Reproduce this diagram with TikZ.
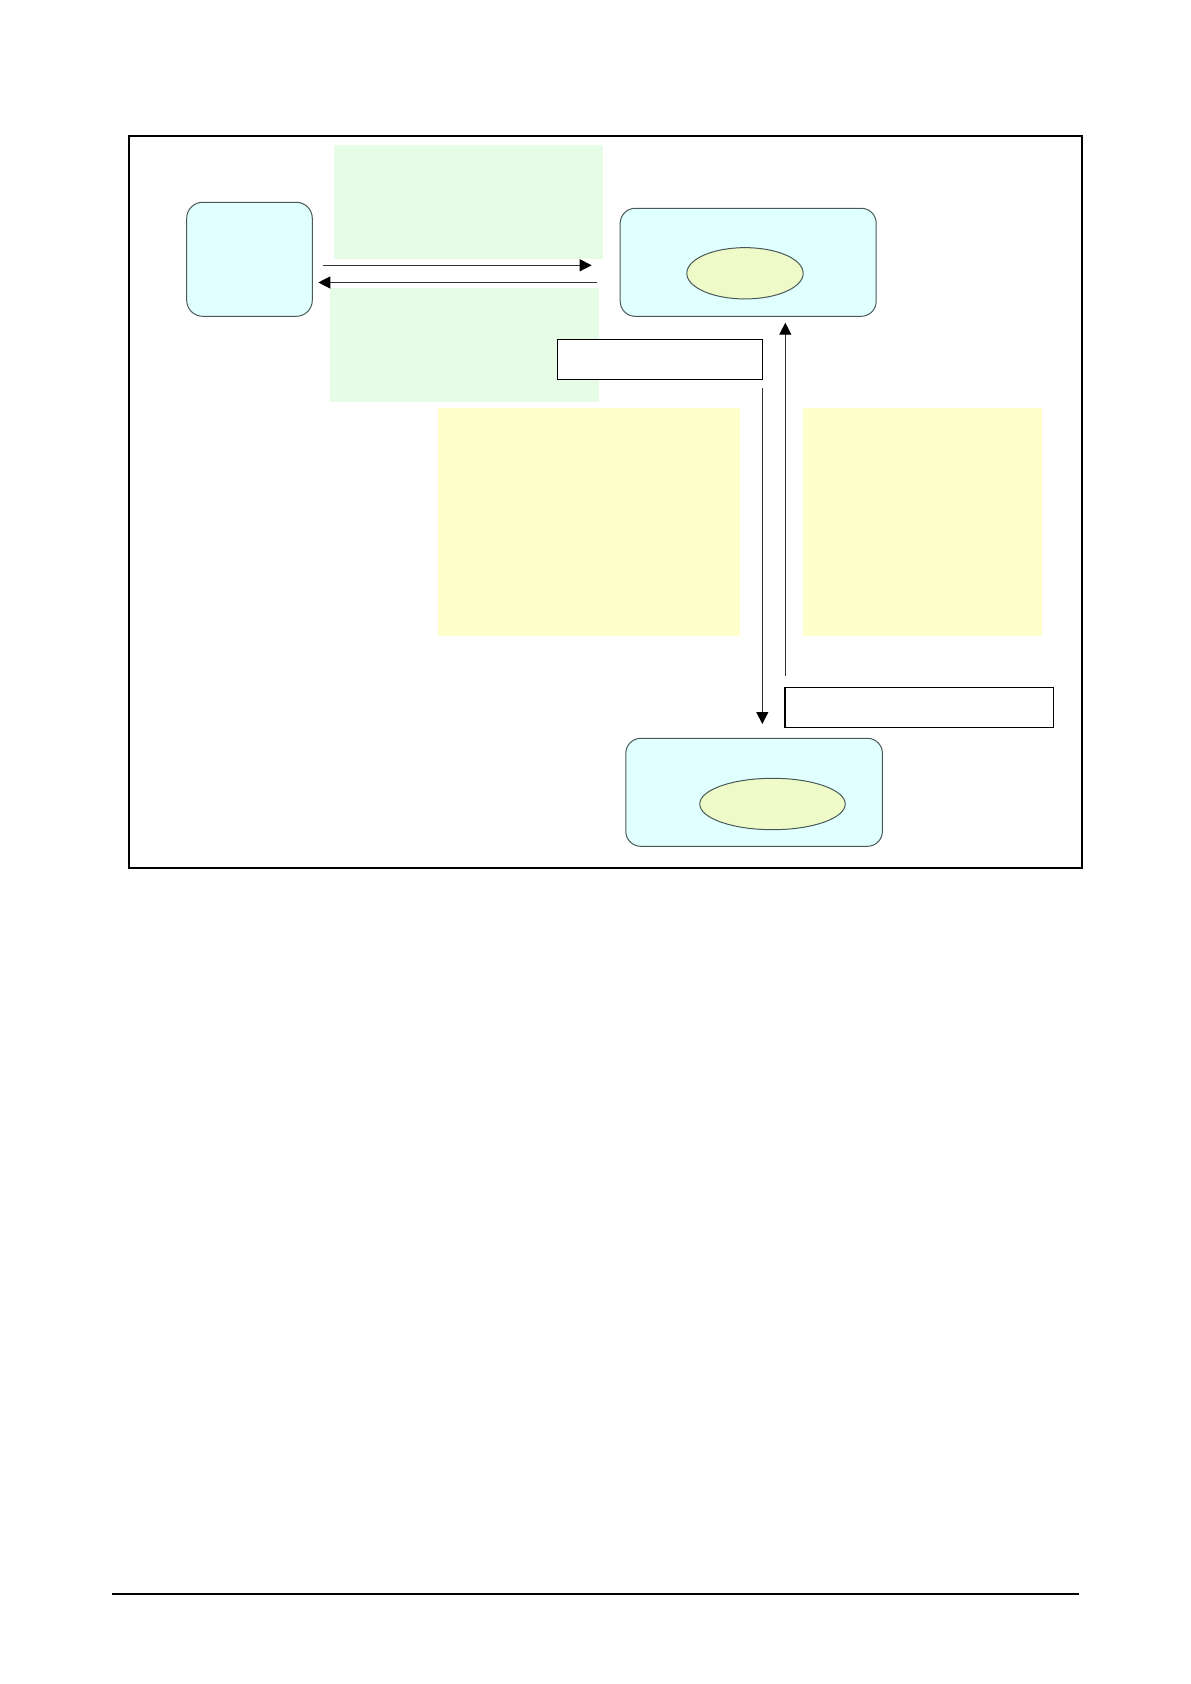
\documentclass[tikz,border=0pt]{standalone}
\usetikzlibrary{arrows.meta,calc,shapes.geometric}
\definecolor{gfill}{HTML}{E6FCE6}
\definecolor{yfill}{HTML}{FFFFCC}
\definecolor{bfill}{HTML}{E0FFFF}
\definecolor{efill}{HTML}{EEFAC8}
\definecolor{bline}{HTML}{4A5858}
\begin{document}
\begin{tikzpicture}[x=0.5pt,y=-0.5pt,
  every node/.style={inner sep=0pt,outer sep=0pt},
  panel/.style={rectangle,draw=none},
  greenpanel/.style={panel,fill=gfill},
  yellowpanel/.style={panel,fill=yfill},
  roundbox/.style={rectangle,rounded corners=8pt,draw=bline,line width=0.5pt,fill=bfill},
  oval/.style={ellipse,draw=bline,line width=0.5pt,fill=efill},
  labelbox/.style={rectangle,draw=black,line width=0.75pt,fill=white},
  arr/.style={draw=black!80,line width=0.5pt,-{Triangle[length=6pt,width=6pt,color=black]}}
]
\useasboundingbox (0,0) rectangle (1190,1684);
\node[rectangle,draw=black,line width=1pt,minimum width=476.65pt,minimum height=365.7pt] (frame) at (605.65,502) {};
\node[greenpanel,minimum width=134.5pt,minimum height=57.15pt] (green1) at (468.8,202.15) {};
\node[greenpanel,minimum width=134.25pt,minimum height=57.4pt] (green2) at (464.25,345.1) {};
\node[yellowpanel,minimum width=151.3pt,minimum height=114pt] (yellow1) at (589,522) {};
\node[yellowpanel,minimum width=119.35pt,minimum height=114pt] (yellow2) at (922.65,522) {};
\node[roundbox,minimum width=62.8pt,minimum height=57pt] (blueA) at (249.5,259.3) {};
\node[roundbox,rounded corners=7.5pt,minimum width=128pt,minimum height=54pt] (blueB) at (748.2,262.3) {};
\node[roundbox,rounded corners=7.5pt,minimum width=128.3pt,minimum height=54pt] (blueC) at (754.1,792.3) {};
\node[oval,minimum width=58.2pt,minimum height=25.65pt] (ellB) at (745,273.3) {};
\node[oval,minimum width=72.75pt,minimum height=25.7pt] (ellC) at (772.5,804) {};
\node[labelbox,minimum width=102.7pt,minimum height=20pt] (rect1) at (660,359.3) {};
\node[labelbox,minimum width=134.35pt,minimum height=20pt] (rect2) at (919.35,707.3) {};
% connectors
\draw[arr] ($(blueA.east)+(11,6)$) -- ($(blueB.west)+(-28.5,3)$);
\draw[arr] ($(blueB.west)+(-22.8,20.2)$) -- ($(blueA.east)+(6,23.2)$);
\draw[arr] ($(rect1.south east)+(-0.4,8.7)$) -- ($(blueC.north)+(8.2,-14.3)$);
\draw[arr] ($(rect2.north west)+(0.3,-11.6)$) -- ($(blueB.south)+(37.1,6.4)$);
% footer rule
\coordinate (footL) at (112.3,1593.7);
\coordinate (footR) at (1079,1593.7);
\draw[line width=1pt] (footL) -- (footR);
\end{tikzpicture}
\end{document}
